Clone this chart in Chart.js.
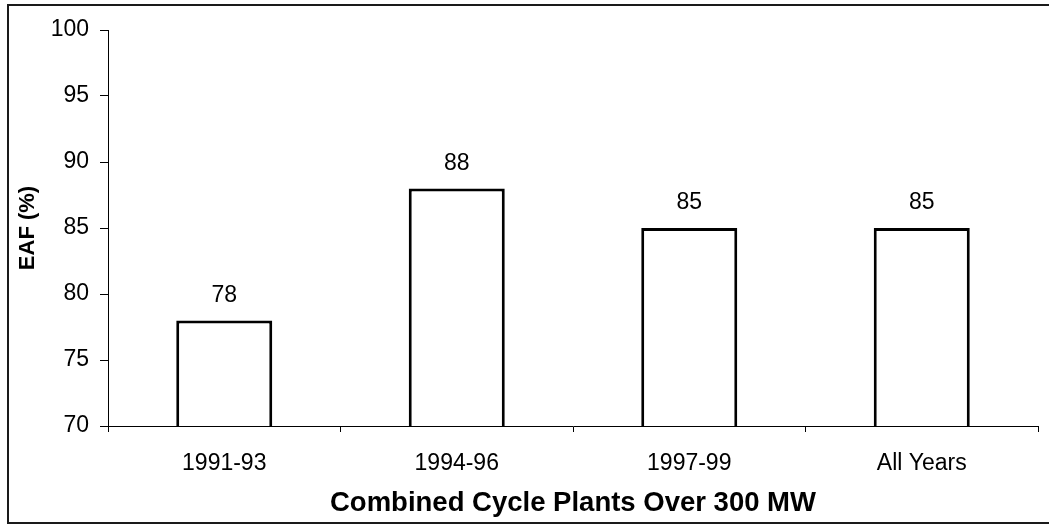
<!DOCTYPE html>
<html>
<head>
<meta charset="utf-8">
<script src="https://cdn.jsdelivr.net/npm/chart.js@4/dist/chart.umd.min.js"></script>
<style>
  html, body { margin: 0; padding: 0; background: #fff; }
  #wrap { width: 1049px; height: 525px; position: relative; }
</style>
</head>
<body>
<div id="wrap"><canvas id="c" width="1049" height="525"></canvas></div>
<script>
const categories = ["1991-93", "1994-96", "1997-99", "All Years"];
const eafValues = [78, 88, 85, 85];
const yTicks = [70, 75, 80, 85, 90, 95, 100];
const xTitle = "Combined Cycle Plants Over 300 MW";
const yTitle = "EAF (%)";

const FONT = "'Liberation Sans', Arial, Helvetica, sans-serif";

const framePlugin = {
  id: 'frame',
  beforeDraw(chart) {
    const ctx = chart.ctx;
    ctx.save();
    ctx.fillStyle = '#fff';
    ctx.fillRect(0, 0, chart.width, chart.height);
    ctx.strokeStyle = '#1a1a1a';
    ctx.lineWidth = 2;
    ctx.strokeRect(8, 5, 1100, 518);
    ctx.restore();
  }
};

const valueLabels = {
  id: 'valueLabels',
  afterDatasetsDraw(chart) {
    const ctx = chart.ctx;
    const meta = chart.getDatasetMeta(0);
    ctx.save();
    ctx.fillStyle = '#000';
    ctx.font = '23px ' + FONT;
    ctx.textAlign = 'center';
    ctx.textBaseline = 'middle';
    meta.data.forEach((bar, i) => {
      ctx.fillText(String(chart.data.datasets[0].data[i]), bar.x, bar.y - 25);
    });
    ctx.restore();
  }
};

new Chart(document.getElementById('c'), {
  type: 'bar',
  data: {
    labels: categories,
    datasets: [{
      data: eafValues,
      backgroundColor: '#ffffff',
      borderColor: '#000000',
      borderWidth: 3,
      categoryPercentage: 1,
      barPercentage: 0.413
    }]
  },
  options: {
    responsive: false,
    animation: false,
    devicePixelRatio: 1,
    layout: { padding: { left: 8, top: 30, right: 11, bottom: 8 } },
    plugins: { legend: { display: false }, tooltip: { enabled: false } },
    scales: {
      x: {
        afterFit: s => { s.height = 91; },
        grid: { drawOnChartArea: false, drawTicks: true, tickLength: 6, color: '#000', offset: true },
        border: { color: '#000', width: 1 },
        ticks: { color: '#000', font: { family: FONT, size: 23 }, padding: 18, maxRotation: 0 },
        title: { display: true, text: xTitle, color: '#000', font: { family: FONT, size: 27.5, weight: 'bold', lineHeight: 1 }, padding: { top: 0, bottom: 0 } }
      },
      y: {
        min: 70, max: 100,
        afterFit: s => { s.width = 100; },
        afterBuildTicks: s => { s.ticks = yTicks.map(v => ({ value: v })); },
        grid: { drawOnChartArea: false, drawTicks: true, tickLength: 8, color: '#000' },
        border: { color: '#000', width: 1 },
        ticks: { color: '#000', font: { family: FONT, size: 23 }, padding: 11 },
        title: { display: true, text: yTitle, color: '#000', font: { family: FONT, size: 22, weight: 'bold', lineHeight: 1 }, padding: { top: 9, bottom: 0 } }
      }
    }
  },
  plugins: [framePlugin, valueLabels]
});
</script>
</body>
</html>
